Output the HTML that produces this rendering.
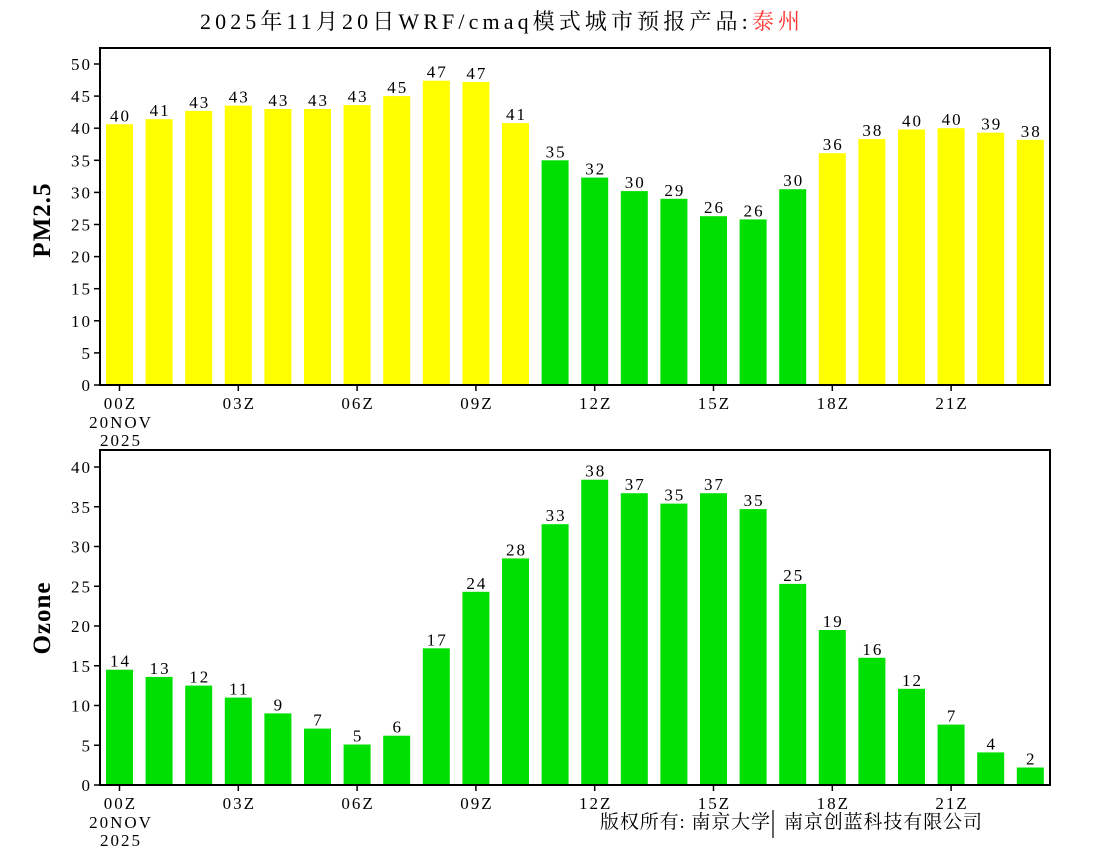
<!DOCTYPE html>
<html><head><meta charset="utf-8"><style>
body{margin:0;background:#fff}
svg text{font-family:"Liberation Serif","Noto Serif CJK SC","Noto Sans CJK SC",serif;fill:#000}
.s text{letter-spacing:2px}
</style></head><body>
<svg width="1100" height="850" xmlns="http://www.w3.org/2000/svg">
<text x="200" y="29" font-size="22" textLength="600" lengthAdjust="spacing">2025年11月20日WRF/cmaq模式城市预报产品:<tspan fill="#ff3333">泰州</tspan></text>

<g>
<rect x="106" y="124.3" width="27" height="260.7" fill="#ffff00"/>
<rect x="145.6" y="119.2" width="27" height="265.8" fill="#ffff00"/>
<rect x="185.2" y="110.9" width="27" height="274.1" fill="#ffff00"/>
<rect x="224.8" y="105.7" width="27" height="279.3" fill="#ffff00"/>
<rect x="264.4" y="109" width="27" height="276" fill="#ffff00"/>
<rect x="304" y="109" width="27" height="276" fill="#ffff00"/>
<rect x="343.6" y="105.1" width="27" height="279.9" fill="#ffff00"/>
<rect x="383.2" y="96.1" width="27" height="288.9" fill="#ffff00"/>
<rect x="422.8" y="80.7" width="27" height="304.3" fill="#ffff00"/>
<rect x="462.4" y="82" width="27" height="303" fill="#ffff00"/>
<rect x="502" y="123.1" width="27" height="261.9" fill="#ffff00"/>
<rect x="541.6" y="160.3" width="27" height="224.7" fill="#00e000"/>
<rect x="581.2" y="177.6" width="27" height="207.4" fill="#00e000"/>
<rect x="620.8" y="191.1" width="27" height="193.9" fill="#00e000"/>
<rect x="660.4" y="198.8" width="27" height="186.2" fill="#00e000"/>
<rect x="700" y="216.2" width="27" height="168.8" fill="#00e000"/>
<rect x="739.6" y="219.4" width="27" height="165.6" fill="#00e000"/>
<rect x="779.2" y="189.2" width="27" height="195.8" fill="#00e000"/>
<rect x="818.8" y="153.2" width="27" height="231.8" fill="#ffff00"/>
<rect x="858.4" y="139.1" width="27" height="245.9" fill="#ffff00"/>
<rect x="898" y="129.5" width="27" height="255.5" fill="#ffff00"/>
<rect x="937.6" y="128.2" width="27" height="256.8" fill="#ffff00"/>
<rect x="977.2" y="132.7" width="27" height="252.3" fill="#ffff00"/>
<rect x="1016.8" y="139.8" width="27" height="245.2" fill="#ffff00"/>
</g>
<g class="s" font-size="17" text-anchor="middle">
<text x="120.5" y="121.3">40</text>
<text x="160.1" y="116.2">41</text>
<text x="199.7" y="107.9">43</text>
<text x="239.3" y="102.7">43</text>
<text x="278.9" y="106">43</text>
<text x="318.5" y="106">43</text>
<text x="358.1" y="102.1">43</text>
<text x="397.7" y="93.1">45</text>
<text x="437.3" y="77.7">47</text>
<text x="476.9" y="79">47</text>
<text x="516.5" y="120.1">41</text>
<text x="556.1" y="157.3">35</text>
<text x="595.7" y="174.6">32</text>
<text x="635.3" y="188.1">30</text>
<text x="674.9" y="195.8">29</text>
<text x="714.5" y="213.2">26</text>
<text x="754.1" y="216.4">26</text>
<text x="793.7" y="186.2">30</text>
<text x="833.3" y="150.2">36</text>
<text x="872.9" y="136.1">38</text>
<text x="912.5" y="126.5">40</text>
<text x="952.1" y="125.2">40</text>
<text x="991.7" y="129.7">39</text>
<text x="1031.3" y="136.8">38</text>
</g>
<rect x="100" y="48" width="950" height="337" fill="none" stroke="#000" stroke-width="2"/>
<g stroke="#000" stroke-width="1.5">
<line x1="94" y1="385" x2="100" y2="385"/><line x1="94" y1="352.9" x2="100" y2="352.9"/><line x1="94" y1="320.8" x2="100" y2="320.8"/><line x1="94" y1="288.7" x2="100" y2="288.7"/><line x1="94" y1="256.6" x2="100" y2="256.6"/><line x1="94" y1="224.5" x2="100" y2="224.5"/><line x1="94" y1="192.4" x2="100" y2="192.4"/><line x1="94" y1="160.3" x2="100" y2="160.3"/><line x1="94" y1="128.2" x2="100" y2="128.2"/><line x1="94" y1="96.1" x2="100" y2="96.1"/><line x1="94" y1="64" x2="100" y2="64"/>
<line x1="119.5" y1="385" x2="119.5" y2="391"/><line x1="238.3" y1="385" x2="238.3" y2="391"/><line x1="357.1" y1="385" x2="357.1" y2="391"/><line x1="475.9" y1="385" x2="475.9" y2="391"/><line x1="594.7" y1="385" x2="594.7" y2="391"/><line x1="713.5" y1="385" x2="713.5" y2="391"/><line x1="832.3" y1="385" x2="832.3" y2="391"/><line x1="951.1" y1="385" x2="951.1" y2="391"/>
</g>
<g class="s" font-size="17" text-anchor="end">
<text x="92" y="391">0</text><text x="92" y="358.9">5</text><text x="92" y="326.8">10</text><text x="92" y="294.7">15</text><text x="92" y="262.6">20</text><text x="92" y="230.5">25</text><text x="92" y="198.4">30</text><text x="92" y="166.3">35</text><text x="92" y="134.2">40</text><text x="92" y="102.1">45</text><text x="92" y="70">50</text>
</g>
<g class="s" font-size="17" text-anchor="middle">
<text x="120.5" y="409">00Z</text><text x="239.3" y="409">03Z</text><text x="358.1" y="409">06Z</text><text x="476.9" y="409">09Z</text><text x="595.7" y="409">12Z</text><text x="714.5" y="409">15Z</text><text x="833.3" y="409">18Z</text><text x="952.1" y="409">21Z</text>
<text x="121" y="428">20NOV</text><text x="121" y="446">2025</text>
</g>
<text transform="translate(50,220) rotate(-90)" font-size="25" font-weight="bold" text-anchor="middle" letter-spacing="1">PM2.5</text>

<g fill="#00e000">
<rect x="106" y="669.7" width="27" height="115.3"/>
<rect x="145.6" y="676.9" width="27" height="108.1"/>
<rect x="185.2" y="685.6" width="27" height="99.4"/>
<rect x="224.8" y="697.6" width="27" height="87.4"/>
<rect x="264.4" y="713.4" width="27" height="71.6"/>
<rect x="304" y="728.6" width="27" height="56.4"/>
<rect x="343.6" y="744.5" width="27" height="40.5"/>
<rect x="383.2" y="735.7" width="27" height="49.3"/>
<rect x="422.8" y="648.3" width="27" height="136.7"/>
<rect x="462.4" y="591.8" width="27" height="193.2"/>
<rect x="502" y="558.4" width="27" height="226.6"/>
<rect x="541.6" y="524.2" width="27" height="260.8"/>
<rect x="581.2" y="479.7" width="27" height="305.3"/>
<rect x="620.8" y="493.2" width="27" height="291.8"/>
<rect x="660.4" y="503.6" width="27" height="281.4"/>
<rect x="700" y="493.2" width="27" height="291.8"/>
<rect x="739.6" y="509.1" width="27" height="275.9"/>
<rect x="779.2" y="583.9" width="27" height="201.1"/>
<rect x="818.8" y="630" width="27" height="155"/>
<rect x="858.4" y="657.8" width="27" height="127.2"/>
<rect x="898" y="688.8" width="27" height="96.2"/>
<rect x="937.6" y="724.6" width="27" height="60.4"/>
<rect x="977.2" y="752.4" width="27" height="32.6"/>
<rect x="1016.8" y="767.5" width="27" height="17.5"/>
</g>
<g class="s" font-size="17" text-anchor="middle">
<text x="120.5" y="666.7">14</text>
<text x="160.1" y="673.9">13</text>
<text x="199.7" y="682.6">12</text>
<text x="239.3" y="694.6">11</text>
<text x="278.9" y="710.4">9</text>
<text x="318.5" y="725.6">7</text>
<text x="358.1" y="741.5">5</text>
<text x="397.7" y="732.7">6</text>
<text x="437.3" y="645.3">17</text>
<text x="476.9" y="588.8">24</text>
<text x="516.5" y="555.4">28</text>
<text x="556.1" y="521.2">33</text>
<text x="595.7" y="476.7">38</text>
<text x="635.3" y="490.2">37</text>
<text x="674.9" y="500.6">35</text>
<text x="714.5" y="490.2">37</text>
<text x="754.1" y="506.1">35</text>
<text x="793.7" y="580.9">25</text>
<text x="833.3" y="627">19</text>
<text x="872.9" y="654.8">16</text>
<text x="912.5" y="685.8">12</text>
<text x="952.1" y="721.6">7</text>
<text x="991.7" y="749.4">4</text>
<text x="1031.3" y="764.5">2</text>
</g>
<rect x="100" y="450" width="950" height="335" fill="none" stroke="#000" stroke-width="2"/>
<g stroke="#000" stroke-width="1.5">
<line x1="94" y1="785" x2="100" y2="785"/><line x1="94" y1="745.25" x2="100" y2="745.25"/><line x1="94" y1="705.5" x2="100" y2="705.5"/><line x1="94" y1="665.75" x2="100" y2="665.75"/><line x1="94" y1="626" x2="100" y2="626"/><line x1="94" y1="586.25" x2="100" y2="586.25"/><line x1="94" y1="546.5" x2="100" y2="546.5"/><line x1="94" y1="506.75" x2="100" y2="506.75"/><line x1="94" y1="467" x2="100" y2="467"/>
<line x1="119.5" y1="785" x2="119.5" y2="791"/><line x1="238.3" y1="785" x2="238.3" y2="791"/><line x1="357.1" y1="785" x2="357.1" y2="791"/><line x1="475.9" y1="785" x2="475.9" y2="791"/><line x1="594.7" y1="785" x2="594.7" y2="791"/><line x1="713.5" y1="785" x2="713.5" y2="791"/><line x1="832.3" y1="785" x2="832.3" y2="791"/><line x1="951.1" y1="785" x2="951.1" y2="791"/>
</g>
<g class="s" font-size="17" text-anchor="end">
<text x="92" y="791">0</text><text x="92" y="751.25">5</text><text x="92" y="711.5">10</text><text x="92" y="671.75">15</text><text x="92" y="632">20</text><text x="92" y="592.25">25</text><text x="92" y="552.5">30</text><text x="92" y="512.75">35</text><text x="92" y="473">40</text>
</g>
<g class="s" font-size="17" text-anchor="middle">
<text x="120.5" y="809">00Z</text><text x="239.3" y="809">03Z</text><text x="358.1" y="809">06Z</text><text x="476.9" y="809">09Z</text><text x="595.7" y="809">12Z</text><text x="714.5" y="809">15Z</text><text x="833.3" y="809">18Z</text><text x="952.1" y="809">21Z</text>
<text x="121" y="828">20NOV</text><text x="121" y="846">2025</text>
</g>
<text transform="translate(50,618) rotate(-90)" font-size="25" font-weight="bold" text-anchor="middle" letter-spacing="1">Ozone</text>
<text x="600" y="828" font-size="19" textLength="170" lengthAdjust="spacing">版权所有: 南京大学</text>
<line x1="773" y1="810" x2="773" y2="838" stroke="#000" stroke-width="1.2"/>
<text x="784" y="828" font-size="19" textLength="198" lengthAdjust="spacing">南京创蓝科技有限公司</text>
</svg>
</body></html>
